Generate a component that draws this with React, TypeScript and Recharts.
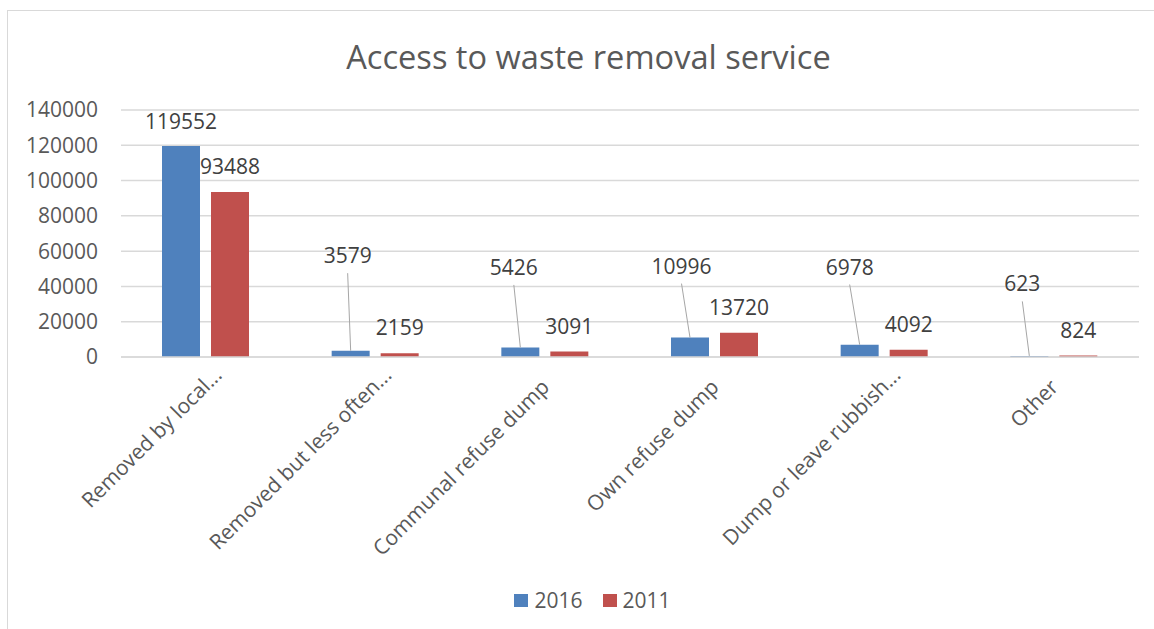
import React from "react";
import { BarChart, Bar, XAxis, YAxis, CartesianGrid, Legend, LabelList } from "recharts";

const categories = [
  "Removed by local...",
  "Removed but less often...",
  "Communal refuse dump",
  "Own refuse dump",
  "Dump or leave rubbish...",
  "Other",
];
const values2016 = [119552, 3579, 5426, 10996, 6978, 623];
const values2011 = [93488, 2159, 3091, 13720, 4092, 824];
const yTicks = [0, 20000, 40000, 60000, 80000, 100000, 120000, 140000];
const seriesNames = ["2016", "2011"];

// label placement (style): offset of 2016 labels from the bar's top centre
const blueLabelOffsets: [number, number][] = [
  [0, -25],
  [-3, -95],
  [-6.5, -80],
  [-8.5, -71.5],
  [-10, -77.7],
  [-7, -72],
];

const data = categories.map((c, i) => ({ name: c, v2016: values2016[i], v2011: values2011[i] }));

const FONT = "'Open Sans', sans-serif";
const BLUE = "#4F81BD";
const RED = "#C0504D";
const TEXT = "#595959";
const LABEL = "#404040";
const GRID = "#D9D9D9";

const BlueLabel = (props: any) => {
  const { x, y, width, value, index } = props;
  const cx = Number(x) + Number(width) / 2;
  const top = Number(y);
  const [dx, dy] = blueLabelOffsets[index] || [0, -25];
  const lx = cx + dx;
  const ly = top + dy;
  return (
    <g>
      {dy < -40 && (
        <line x1={lx} y1={ly + 17.5} x2={cx} y2={top} stroke="#A6A6A6" strokeWidth={1} />
      )}
      <text x={lx} y={ly} dy="0.36em" textAnchor="middle" fontSize={21} fontFamily={FONT} fill={LABEL}>
        {value}
      </text>
    </g>
  );
};

const RedLabel = (props: any) => {
  const { x, y, width, value } = props;
  const cx = Number(x) + Number(width) / 2;
  return (
    <text x={cx} y={Number(y) - 25.5} dy="0.36em" textAnchor="middle" fontSize={21} fontFamily={FONT} fill={LABEL}>
      {value}
    </text>
  );
};

const XTick = (props: any) => {
  const { x, y, payload } = props;
  const truncated = String(payload.value).endsWith("...");
  const ax = Number(x) + (truncated ? 12 : 0);
  const ay = Number(y) + (truncated ? 14 : 26);
  return (
    <text
      x={ax}
      y={ay}
      dy="0.36em"
      textAnchor="end"
      transform={`rotate(-45, ${ax}, ${ay})`}
      fontSize={21}
      fontFamily={FONT}
      fill={TEXT}
    >
      {payload.value}
    </text>
  );
};

const LegendContent = () => (
  <div
    style={{
      height: 30,
      display: "flex",
      justifyContent: "center",
      alignItems: "center",
      fontFamily: FONT,
      fontSize: 21,
      color: TEXT,
      paddingLeft: 38,
    }}
  >
    {seriesNames.map((n, i) => (
      <div key={n} style={{ display: "flex", alignItems: "center", marginLeft: i ? 20 : 0 }}>
        <div style={{ width: 14, height: 13, background: i === 0 ? BLUE : RED, marginRight: 6 }} />
        <span>{n}</span>
      </div>
    ))}
  </div>
);

export default function App() {
  return (
    <div
      style={{
        position: "absolute",
        left: 7,
        top: 10,
        width: 1146,
        height: 618,
        borderTop: `1px solid ${GRID}`,
        borderLeft: `1px solid ${GRID}`,
        background: "#fff",
      }}
    >
      <div
        style={{
          position: "absolute",
          left: 0,
          top: 0,
          width: 1161,
          textAlign: "center",
          fontFamily: FONT,
          fontSize: 32.6,
          color: TEXT,
          lineHeight: "40px",
          paddingTop: 26,
        }}
      >
        Access to waste removal service
      </div>
      <BarChart
        width={1146}
        height={618}
        data={data}
        margin={{ top: 99, right: 15, left: 0, bottom: 14 }}
        barSize={38}
        barGap={11}
      >
        <CartesianGrid vertical={false} stroke={GRID} strokeWidth={1.5} />
        <XAxis
          dataKey="name"
          interval={0}
          tick={<XTick />}
          tickLine={false}
          axisLine={{ stroke: GRID, strokeWidth: 1.5 }}
          height={228}
          tickSize={0}
          tickMargin={0}
        />
        <YAxis
          domain={[0, 140000]}
          ticks={yTicks}
          width={113}
          tickLine={false}
          axisLine={false}
          tickSize={0}
          tickMargin={23}
          tick={{ fontSize: 21, fontFamily: FONT, fill: TEXT }}
        />
        <Legend verticalAlign="bottom" align="center" height={30} content={<LegendContent />} />
        <Bar dataKey="v2016" name="2016" fill={BLUE} isAnimationActive={false}>
          <LabelList dataKey="v2016" content={<BlueLabel />} />
        </Bar>
        <Bar dataKey="v2011" name="2011" fill={RED} isAnimationActive={false}>
          <LabelList dataKey="v2011" content={<RedLabel />} />
        </Bar>
      </BarChart>
    </div>
  );
}
